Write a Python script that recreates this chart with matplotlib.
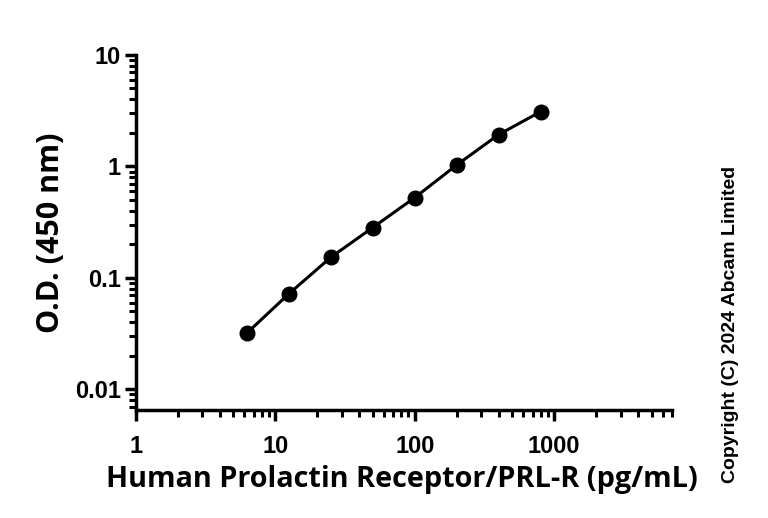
import numpy as np
import matplotlib.pyplot as plt
from matplotlib.ticker import LogLocator, FixedLocator, FixedFormatter, NullFormatter

plt.rcParams['font.family'] = ['Liberation Sans', 'DejaVu Sans']
plt.rcParams['font.weight'] = 'bold'

# Standard curve data
conc = [6.25, 12.5, 25, 50, 100, 200, 400, 800]
od = [0.032, 0.072, 0.153, 0.283, 0.525, 1.03, 1.93, 3.1]

x_ticks = [1, 10, 100, 1000]
x_labels = ["1", "10", "100", "1000"]
y_ticks = [0.01, 0.1, 1, 10]
y_labels = ["0.01", "0.1", "1", "10"]

fig = plt.figure(figsize=(7.68, 5.18), dpi=100)
ax = fig.add_axes([0.177, 0.208, 0.698, 0.686])

ax.plot(conc, od, color='black', lw=2.2, marker='o', ms=10.5, mfc='black', mec='black', zorder=3)

ax.set_xscale('log')
ax.set_yscale('log')
ax.set_xlim(1, 7000)
ax.set_ylim(0.0065, 10)

ax.xaxis.set_major_locator(FixedLocator(x_ticks))
ax.xaxis.set_major_formatter(FixedFormatter(x_labels))
ax.xaxis.set_minor_locator(LogLocator(base=10, subs=np.arange(2, 10)))
ax.xaxis.set_minor_formatter(NullFormatter())
ax.yaxis.set_major_locator(FixedLocator(y_ticks))
ax.yaxis.set_major_formatter(FixedFormatter(y_labels))
ax.yaxis.set_minor_locator(LogLocator(base=10, subs=np.arange(2, 10)))
ax.yaxis.set_minor_formatter(NullFormatter())

for side in ['top', 'right']:
    ax.spines[side].set_visible(False)
for side in ['left', 'bottom']:
    ax.spines[side].set_linewidth(2.5)

ax.tick_params(which='major', length=8, width=2.5)
ax.tick_params(which='minor', length=5, width=2.2)
ax.tick_params(axis='x', pad=10)
ax.tick_params(axis='y', pad=3)
for lab in ax.get_xticklabels() + ax.get_yticklabels():
    lab.set_family(['Liberation Sans Narrow', 'Liberation Sans'])
    lab.set_fontsize(17)

label_font = ['Open Sans', 'DejaVu Sans']
ax.set_xlabel('Human Prolactin Receptor/PRL-R (pg/mL)', fontsize=20.8, fontweight='bold',
              family=label_font)
ax.xaxis.set_label_coords(0.496, -0.154)
ax.set_ylabel('O.D. (450 nm)', fontsize=22, fontweight='bold', family=label_font)
ax.yaxis.set_label_coords(-0.13, 0.5)

fig.text(0.951, 0.373, 'Copyright (C) 2024 Abcam Limited', rotation=90,
         fontsize=14, fontweight='bold', ha='center', va='center')

fig.savefig('out.png', dpi=100)
